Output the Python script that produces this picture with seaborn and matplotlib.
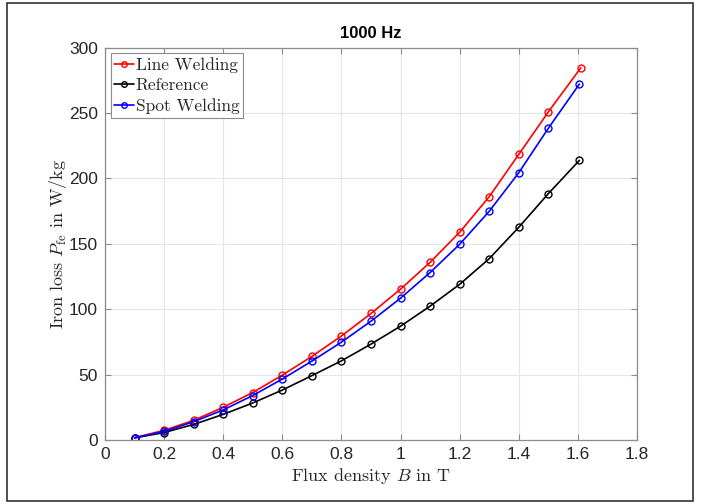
import numpy as np
import pandas as pd
import matplotlib
matplotlib.use("Agg")
import matplotlib.pyplot as plt
import seaborn as sns
from matplotlib.patches import Rectangle

# ---- data ----
B_line = [0.1, 0.2, 0.3, 0.4, 0.5, 0.6, 0.7, 0.8, 0.9, 1.0, 1.1, 1.2, 1.3, 1.4, 1.5, 1.61]
P_line = [1.8, 7.4, 15.0, 25.0, 36.3, 49.6, 63.9, 79.5, 96.7, 115.3, 135.8, 158.8, 186.0, 218.3, 250.8, 284.5]
B_ref = [0.1, 0.2, 0.3, 0.4, 0.5, 0.6, 0.7, 0.8, 0.9, 1.0, 1.1, 1.2, 1.3, 1.4, 1.5, 1.605]
P_ref = [1.6, 5.7, 11.9, 19.6, 28.3, 38.2, 49.2, 60.5, 73.3, 87.0, 102.3, 119.0, 138.6, 162.6, 188.3, 213.7]
B_spot = [0.1, 0.2, 0.3, 0.4, 0.5, 0.6, 0.7, 0.8, 0.9, 1.0, 1.1, 1.2, 1.3, 1.4, 1.5, 1.605]
P_spot = [1.7, 6.5, 14.0, 23.0, 34.0, 46.6, 60.3, 74.8, 90.8, 108.4, 128.0, 149.6, 174.8, 204.3, 238.3, 272.0]
series_names = ["Line Welding", "Reference", "Spot Welding"]
series_colors = ["#ff0000", "#000000", "#0000ff"]
x_ticks = [0, 0.2, 0.4, 0.6, 0.8, 1.0, 1.2, 1.4, 1.6, 1.8]
x_ticklabels = ["0", "0.2", "0.4", "0.6", "0.8", "1", "1.2", "1.4", "1.6", "1.8"]
y_ticks = [0, 50, 100, 150, 200, 250, 300]

df = pd.concat([
    pd.DataFrame({"B": B_line, "P": P_line, "series": series_names[0]}),
    pd.DataFrame({"B": B_ref, "P": P_ref, "series": series_names[1]}),
    pd.DataFrame({"B": B_spot, "P": P_spot, "series": series_names[2]}),
], ignore_index=True)

sns.set_theme(style="white")
plt.rcParams["font.family"] = ["Liberation Sans", "DejaVu Sans"]
plt.rcParams["mathtext.fontset"] = "cm"

fig = plt.figure(figsize=(7.05, 5.04), dpi=100)
ax = fig.add_axes([105/705, 1-440/504, (637-105)/705, (440-47.5)/504])

sns.lineplot(data=df, x="B", y="P", hue="series", hue_order=series_names,
             palette=dict(zip(series_names, series_colors)), marker="o",
             markersize=5, markerfacecolor="none", markeredgewidth=1.0,
             linewidth=1.2, ax=ax, sort=False, estimator=None)
for line, c in zip(ax.get_lines(), series_colors):
    line.set_markeredgecolor(c)
    line.set_markerfacecolor("none")

ax.set_xlim(0, 1.8)
ax.set_ylim(0, 300)
ax.set_xticks(x_ticks)
ax.set_xticklabels(x_ticklabels)
ax.set_yticks(y_ticks)
ax.grid(True, color="#e6e6e6", linewidth=0.8)
for s in ax.spines.values():
    s.set_visible(True)
    s.set_color("#8c8c8c")
    s.set_linewidth(0.9)
ax.tick_params(direction="in", length=4, width=0.8, color="#8c8c8c",
               labelsize=12.5, labelcolor="#262626", top=True, right=True,
               bottom=True, left=True, pad=5)

ax.set_xlabel(r"Flux density $B$ in T", fontfamily="cmr10", fontsize=13, color="#262626", labelpad=3)
ax.set_ylabel(r"Iron loss $P_{\mathrm{fe}}$ in W/kg", fontfamily="cmr10", fontsize=13, color="#262626", labelpad=0)
ax.set_title("1000 Hz", fontsize=12, fontweight="bold", color="#000000", pad=7)

handles, labels = ax.get_legend_handles_labels()
for h, c in zip(handles, series_colors):
    h.set_marker("o"); h.set_markersize(4); h.set_markerfacecolor("none"); h.set_markeredgecolor(c)
leg = ax.legend(handles, labels, loc="upper left",
                bbox_to_anchor=((110.5-105)/532, 1-(53.5-47.5)/392.5),
                prop={"family": "cmr10", "size": 12.5}, frameon=True, fancybox=False,
                edgecolor="#8c8c8c", framealpha=1, handlelength=1.15, handletextpad=0.1,
                borderpad=0.2, labelspacing=0.3, borderaxespad=0.0)
leg.get_frame().set_linewidth(0.8)

fig.patches.append(Rectangle((7/705, 1-501/504), (693-7)/705, (501-3)/504,
                             transform=fig.transFigure, fill=False,
                             edgecolor="#333333", linewidth=1.2))

fig.savefig("out.png", dpi=100)
